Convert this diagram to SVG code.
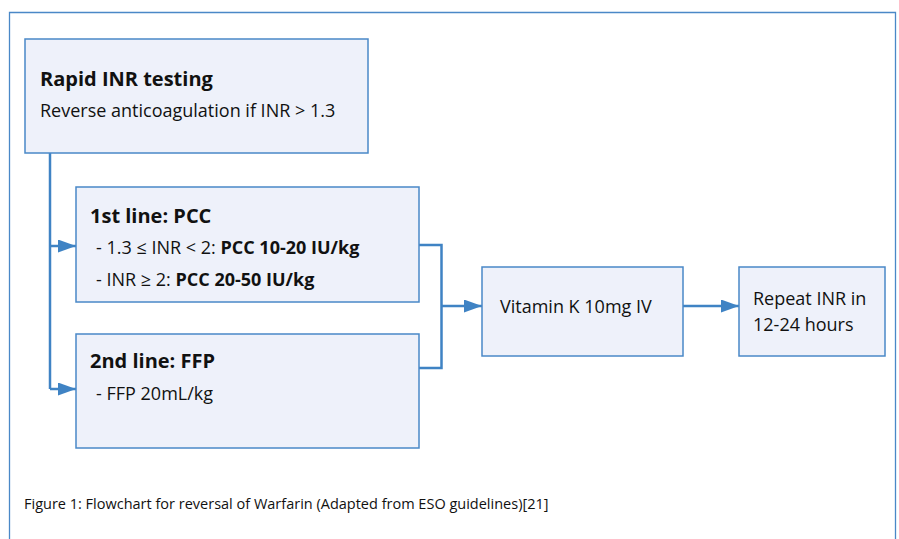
<svg xmlns="http://www.w3.org/2000/svg" width="899" height="539" viewBox="0 0 899 539">
<style>
.box{fill:#eef1fa;stroke:#4a88c7;stroke-width:1.5}
.ln{fill:none;stroke:#3f83c4;stroke-width:2.5}
text{font-family:"Open Sans","Noto Sans",sans-serif;fill:#111}
.b{font-weight:bold}
.t{font-size:18px}
.h{font-size:20px;font-weight:bold}
</style>
<defs>
<marker id="ah" markerWidth="18" markerHeight="13" refX="18" refY="6.5" orient="auto" markerUnits="userSpaceOnUse" viewBox="0 0 18 13">
<path d="M0,0 L18,6.5 L0,13 z" fill="#3f83c4"/>
</marker>
</defs>
<path d="M9.5,539 V12.5 H895.5 V539" fill="none" stroke="#4a88c7" stroke-width="1.3"/>
<g id="connectors">
<path class="ln" d="M50,153 V389"/>
<path class="ln" d="M50,246 H76" marker-end="url(#ah)"/>
<path class="ln" d="M50,389 H76" marker-end="url(#ah)"/>
<path class="ln" d="M419,245 H441.5 V368 H419"/>
<path class="ln" d="M441.5,306 H482" marker-end="url(#ah)"/>
<path class="ln" d="M683,306 H739" marker-end="url(#ah)"/>
</g>
<g id="rapid">
<rect class="box" x="25" y="39" width="343" height="114"/>
<text x="40" y="86" class="h" font-size="20.5">Rapid INR testing</text>
<text x="40" y="117" class="t">Reverse anticoagulation if INR &gt; 1.3</text>
</g>
<g id="pcc">
<rect class="box" x="76" y="187" width="343" height="115"/>
<text x="90" y="223" class="h">1st line: PCC</text>
<text x="96" y="254" class="t">- 1.3 ≤ INR &lt; 2: <tspan class="b">PCC 10-20 IU/kg</tspan></text>
<text x="96" y="286" class="t">- INR ≥ 2: <tspan class="b">PCC 20-50 IU/kg</tspan></text>
</g>
<g id="ffp">
<rect class="box" x="76" y="334" width="343" height="114"/>
<text x="90" y="368" class="h">2nd line: FFP</text>
<text x="96" y="400" class="t">- FFP 20mL/kg</text>
</g>
<g id="vitk">
<rect class="box" x="482" y="267" width="201" height="89"/>
<text x="500" y="313" class="t">Vitamin K 10mg IV</text>
</g>
<g id="repeat">
<rect class="box" x="739" y="267" width="146" height="89"/>
<text x="753" y="305" class="t">Repeat INR in</text>
<text x="753" y="331" class="t">12-24 hours</text>
</g>
<text x="24" y="509" font-size="14.5">Figure 1: Flowchart for reversal of Warfarin (Adapted from ESO guidelines)[21]</text>
</svg>
